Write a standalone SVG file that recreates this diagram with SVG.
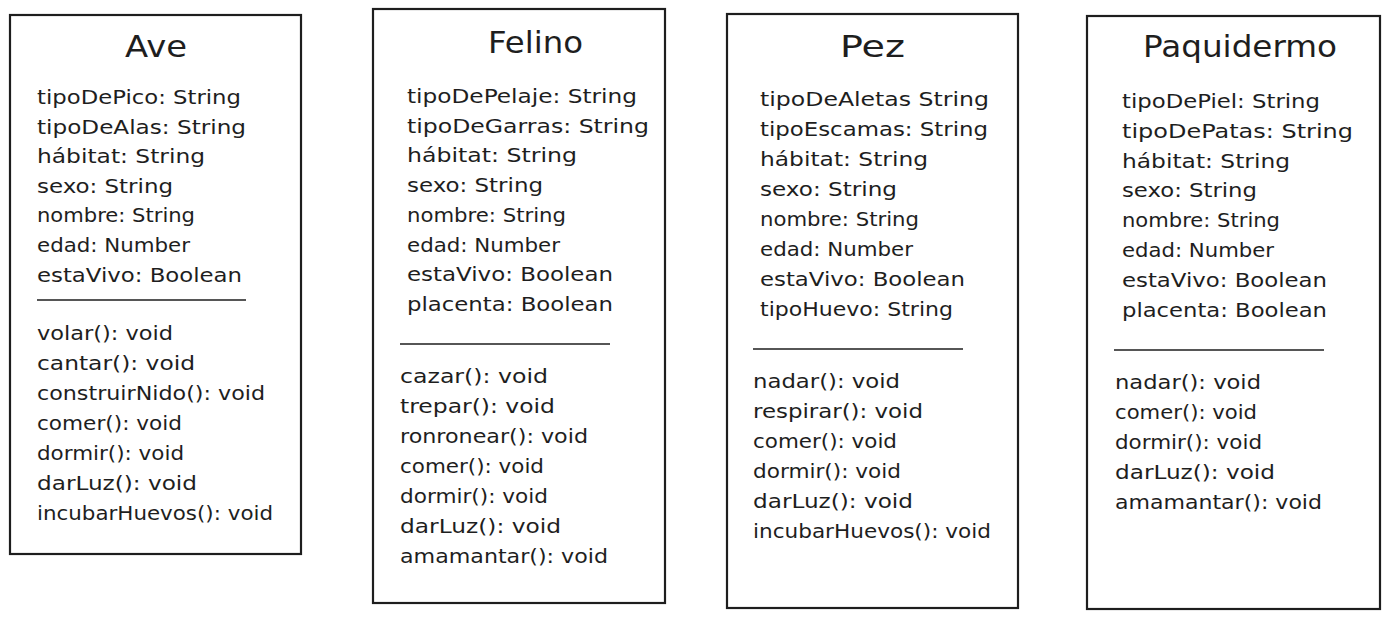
<svg xmlns="http://www.w3.org/2000/svg" width="1389" height="620" viewBox="0 0 1389 620">
<style>
.box{fill:#ffffff;stroke:#1e1e1e;stroke-width:2.2}
.div{stroke:#1e1e1e;stroke-width:1.6;fill:none}
.t{font-family:"DejaVu Sans","Liberation Sans",sans-serif;font-size:30px;fill:#1e1e1e}
.a{font-family:"DejaVu Sans","Liberation Sans",sans-serif;font-size:20px;fill:#1e1e1e}
</style>
<rect width="1389" height="620" fill="#ffffff"/>
<g id="connectors"></g>
<g id="ave">
<rect class="box" x="10" y="15" width="291" height="539"/>
<text class="t" x="125" y="57" textLength="62" lengthAdjust="spacingAndGlyphs">Ave</text>
<text class="a" x="37" y="104" textLength="204" lengthAdjust="spacingAndGlyphs">tipoDePico: String</text>
<text class="a" x="37" y="133.6" textLength="209" lengthAdjust="spacingAndGlyphs">tipoDeAlas: String</text>
<text class="a" x="37" y="163.2" textLength="168" lengthAdjust="spacingAndGlyphs">hábitat: String</text>
<text class="a" x="37" y="192.8" textLength="136" lengthAdjust="spacingAndGlyphs">sexo: String</text>
<text class="a" x="37" y="222.4" textLength="158" lengthAdjust="spacingAndGlyphs">nombre: String</text>
<text class="a" x="37" y="252" textLength="153" lengthAdjust="spacingAndGlyphs">edad: Number</text>
<text class="a" x="37" y="281.6" textLength="205" lengthAdjust="spacingAndGlyphs">estaVivo: Boolean</text>
<line class="div" x1="37" y1="300" x2="246" y2="300"/>
<text class="a" x="37" y="340" textLength="136" lengthAdjust="spacingAndGlyphs">volar(): void</text>
<text class="a" x="37" y="370" textLength="158" lengthAdjust="spacingAndGlyphs">cantar(): void</text>
<text class="a" x="37" y="400" textLength="228" lengthAdjust="spacingAndGlyphs">construirNido(): void</text>
<text class="a" x="37" y="430" textLength="145" lengthAdjust="spacingAndGlyphs">comer(): void</text>
<text class="a" x="37" y="460" textLength="147" lengthAdjust="spacingAndGlyphs">dormir(): void</text>
<text class="a" x="37" y="490" textLength="160" lengthAdjust="spacingAndGlyphs">darLuz(): void</text>
<text class="a" x="37" y="520" textLength="236" lengthAdjust="spacingAndGlyphs">incubarHuevos(): void</text>
</g>
<g id="felino">
<rect class="box" x="373" y="9" width="292" height="594"/>
<text class="t" x="488" y="53" textLength="95" lengthAdjust="spacingAndGlyphs">Felino</text>
<text class="a" x="407" y="103" textLength="230" lengthAdjust="spacingAndGlyphs">tipoDePelaje: String</text>
<text class="a" x="407" y="132.7" textLength="242" lengthAdjust="spacingAndGlyphs">tipoDeGarras: String</text>
<text class="a" x="407" y="162.4" textLength="170" lengthAdjust="spacingAndGlyphs">hábitat: String</text>
<text class="a" x="407" y="192.1" textLength="136" lengthAdjust="spacingAndGlyphs">sexo: String</text>
<text class="a" x="407" y="221.8" textLength="159" lengthAdjust="spacingAndGlyphs">nombre: String</text>
<text class="a" x="407" y="251.5" textLength="153" lengthAdjust="spacingAndGlyphs">edad: Number</text>
<text class="a" x="407" y="281.2" textLength="206" lengthAdjust="spacingAndGlyphs">estaVivo: Boolean</text>
<text class="a" x="407" y="310.9" textLength="206" lengthAdjust="spacingAndGlyphs">placenta: Boolean</text>
<line class="div" x1="400" y1="344" x2="610" y2="344"/>
<text class="a" x="400" y="383" textLength="148" lengthAdjust="spacingAndGlyphs">cazar(): void</text>
<text class="a" x="400" y="413" textLength="155" lengthAdjust="spacingAndGlyphs">trepar(): void</text>
<text class="a" x="400" y="443" textLength="188" lengthAdjust="spacingAndGlyphs">ronronear(): void</text>
<text class="a" x="400" y="473" textLength="144" lengthAdjust="spacingAndGlyphs">comer(): void</text>
<text class="a" x="400" y="503" textLength="148" lengthAdjust="spacingAndGlyphs">dormir(): void</text>
<text class="a" x="400" y="533" textLength="161" lengthAdjust="spacingAndGlyphs">darLuz(): void</text>
<text class="a" x="400" y="563" textLength="208" lengthAdjust="spacingAndGlyphs">amamantar(): void</text>
</g>
<g id="pez">
<rect class="box" x="727" y="14" width="291" height="594"/>
<text class="t" x="840" y="57" textLength="65" lengthAdjust="spacingAndGlyphs">Pez</text>
<text class="a" x="760" y="106" textLength="229" lengthAdjust="spacingAndGlyphs">tipoDeAletas String</text>
<text class="a" x="760" y="136" textLength="228" lengthAdjust="spacingAndGlyphs">tipoEscamas: String</text>
<text class="a" x="760" y="166" textLength="168" lengthAdjust="spacingAndGlyphs">hábitat: String</text>
<text class="a" x="760" y="196" textLength="137" lengthAdjust="spacingAndGlyphs">sexo: String</text>
<text class="a" x="760" y="226" textLength="159" lengthAdjust="spacingAndGlyphs">nombre: String</text>
<text class="a" x="760" y="256" textLength="153" lengthAdjust="spacingAndGlyphs">edad: Number</text>
<text class="a" x="760" y="286" textLength="205" lengthAdjust="spacingAndGlyphs">estaVivo: Boolean</text>
<text class="a" x="760" y="316" textLength="193" lengthAdjust="spacingAndGlyphs">tipoHuevo: String</text>
<line class="div" x1="753" y1="349" x2="963" y2="349"/>
<text class="a" x="753" y="388" textLength="147" lengthAdjust="spacingAndGlyphs">nadar(): void</text>
<text class="a" x="753" y="418" textLength="170" lengthAdjust="spacingAndGlyphs">respirar(): void</text>
<text class="a" x="753" y="448" textLength="144" lengthAdjust="spacingAndGlyphs">comer(): void</text>
<text class="a" x="753" y="478" textLength="148" lengthAdjust="spacingAndGlyphs">dormir(): void</text>
<text class="a" x="753" y="508" textLength="160" lengthAdjust="spacingAndGlyphs">darLuz(): void</text>
<text class="a" x="753" y="538" textLength="238" lengthAdjust="spacingAndGlyphs">incubarHuevos(): void</text>
</g>
<g id="paquidermo">
<rect class="box" x="1087" y="16" width="293" height="593"/>
<text class="t" x="1143" y="57" textLength="194" lengthAdjust="spacingAndGlyphs">Paquidermo</text>
<text class="a" x="1122" y="108" textLength="198" lengthAdjust="spacingAndGlyphs">tipoDePiel: String</text>
<text class="a" x="1122" y="137.8" textLength="231" lengthAdjust="spacingAndGlyphs">tipoDePatas: String</text>
<text class="a" x="1122" y="167.6" textLength="168" lengthAdjust="spacingAndGlyphs">hábitat: String</text>
<text class="a" x="1122" y="197.4" textLength="135" lengthAdjust="spacingAndGlyphs">sexo: String</text>
<text class="a" x="1122" y="227.2" textLength="158" lengthAdjust="spacingAndGlyphs">nombre: String</text>
<text class="a" x="1122" y="257" textLength="152" lengthAdjust="spacingAndGlyphs">edad: Number</text>
<text class="a" x="1122" y="286.8" textLength="205" lengthAdjust="spacingAndGlyphs">estaVivo: Boolean</text>
<text class="a" x="1122" y="316.6" textLength="205" lengthAdjust="spacingAndGlyphs">placenta: Boolean</text>
<line class="div" x1="1114" y1="350" x2="1324" y2="350"/>
<text class="a" x="1115" y="389" textLength="146" lengthAdjust="spacingAndGlyphs">nadar(): void</text>
<text class="a" x="1115" y="419" textLength="142" lengthAdjust="spacingAndGlyphs">comer(): void</text>
<text class="a" x="1115" y="449" textLength="147" lengthAdjust="spacingAndGlyphs">dormir(): void</text>
<text class="a" x="1115" y="479" textLength="160" lengthAdjust="spacingAndGlyphs">darLuz(): void</text>
<text class="a" x="1115" y="509" textLength="207" lengthAdjust="spacingAndGlyphs">amamantar(): void</text>
</g>
</svg>
